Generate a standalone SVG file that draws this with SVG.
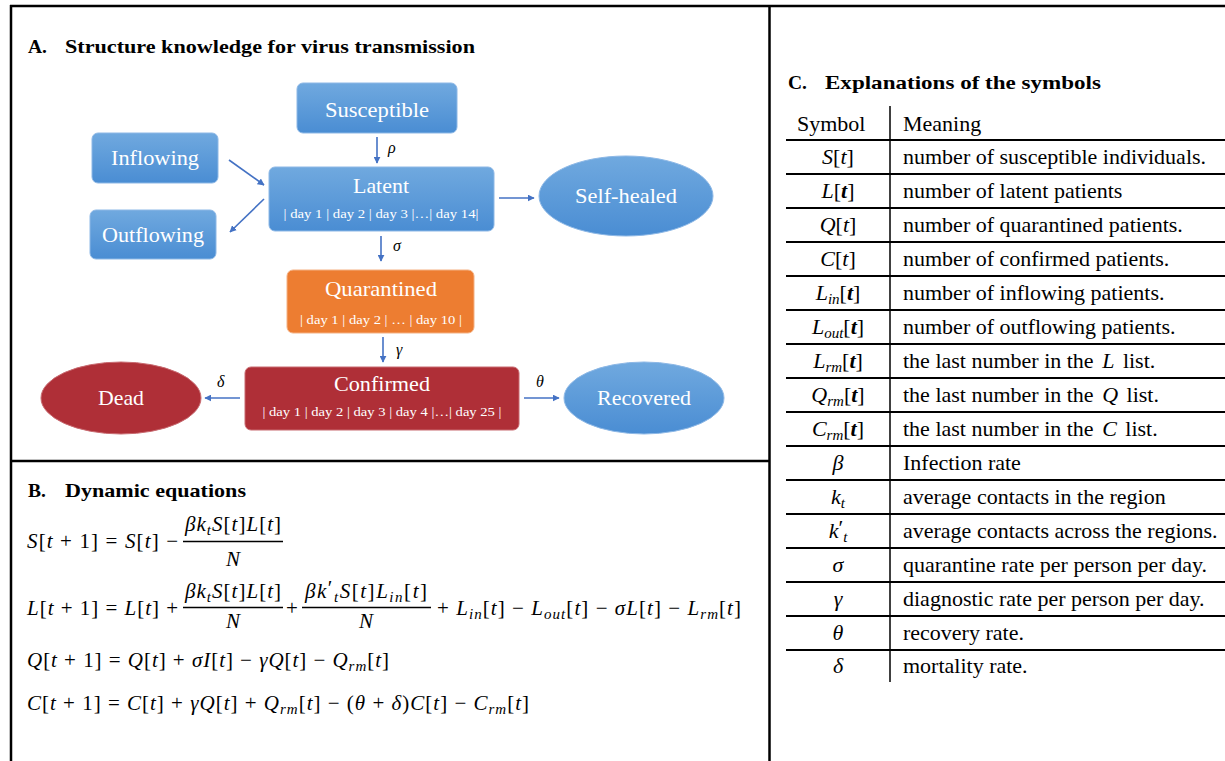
<svg xmlns="http://www.w3.org/2000/svg" width="1225" height="761" viewBox="0 0 1225 761">
  <defs>
    <linearGradient id="blueFill" x1="0" y1="0" x2="0" y2="1">
      <stop offset="0" stop-color="#70A9DF"/>
      <stop offset="1" stop-color="#4A8DD3"/>
    </linearGradient>
    <marker id="arrow" viewBox="0 0 10 10" refX="9" refY="5" markerWidth="7" markerHeight="7" markerUnits="userSpaceOnUse" orient="auto">
      <path d="M0,0 L10,5 L0,10 z" fill="#4472C4"/>
    </marker>
    <style>
      .frame { stroke: #000; fill: none; }
      .blue { fill: url(#blueFill); stroke: #8DB8E6; stroke-width: 1; }
      .orange { fill: #ED7D31; stroke: #F4B183; stroke-width: 1; }
      .red { fill: #AF2F37; stroke: #C86A70; stroke-width: 1; }
      .lbl { font-family: "Liberation Serif", "Times New Roman", serif; font-size: 22px; fill: #fff; text-anchor: middle; }
      .days { font-family: "Liberation Serif", "Times New Roman", serif; font-size: 13px; fill: #fff; text-anchor: middle; }
      .conn { stroke: #4472C4; stroke-width: 1.6; fill: none; marker-end: url(#arrow); }
      .greek { font-family: "Liberation Serif", "Times New Roman", serif; font-style: italic; font-size: 16px; fill: #000; }
      .head { font-family: "Liberation Serif", "Times New Roman", serif; font-weight: bold; font-size: 19.5px; fill: #000; }
      .math { font-family: "Liberation Serif", "Times New Roman", serif; font-size: 21px; fill: #000; }
      .i { font-style: italic; }
      .bi { font-style: italic; font-weight: bold; }
      .sub { font-size: 15px; font-style: italic; }
      .cell { font-family: "Liberation Serif", "Times New Roman", serif; font-size: 22px; fill: #000; }
      .sym { font-family: "Liberation Serif", "Times New Roman", serif; font-size: 22px; fill: #000; text-anchor: middle; }
      .rule { stroke: #000; stroke-width: 1.8; }
      .bar { stroke: #000; stroke-width: 1.5; }
    </style>
  </defs>

  <rect width="1225" height="761" fill="#fff"/>

  <!-- panel frame -->
  <g id="frame">
    <line class="frame" x1="10" y1="6" x2="1225" y2="6" stroke-width="2.5"/>
    <line class="frame" x1="11" y1="5" x2="11" y2="761" stroke-width="2.5"/>
    <line class="frame" x1="769.5" y1="5" x2="769.5" y2="761" stroke-width="2.5"/>
    <line class="frame" x1="11" y1="461" x2="769" y2="461" stroke-width="2.5"/>
  </g>

  <!-- section titles -->
  <text class="head" x="28" y="53">A.</text>
  <text class="head" x="65" y="53" textLength="410" lengthAdjust="spacingAndGlyphs">Structure knowledge for virus transmission</text>
  <text class="head" x="28" y="497">B.</text>
  <text class="head" x="65" y="497" textLength="181" lengthAdjust="spacingAndGlyphs">Dynamic equations</text>
  <text class="head" x="788" y="89">C.</text>
  <text class="head" x="825" y="89" textLength="276" lengthAdjust="spacingAndGlyphs">Explanations of the symbols</text>

  <!-- transmission structure: nodes -->
  <g id="node-susceptible">
    <rect class="blue" x="297" y="83" width="160" height="50" rx="6"/>
    <text class="lbl" x="377" y="117" textLength="104" lengthAdjust="spacingAndGlyphs">Susceptible</text>
  </g>
  <g id="node-inflowing">
    <rect class="blue" x="92" y="133" width="126" height="50" rx="6"/>
    <text class="lbl" x="155" y="165" textLength="88" lengthAdjust="spacingAndGlyphs">Inflowing</text>
  </g>
  <g id="node-outflowing">
    <rect class="blue" x="90" y="210" width="126" height="49" rx="6"/>
    <text class="lbl" x="153" y="242" textLength="102" lengthAdjust="spacingAndGlyphs">Outflowing</text>
  </g>
  <g id="node-latent">
    <rect class="blue" x="269" y="167" width="225" height="64" rx="6"/>
    <text class="lbl" x="381" y="193" textLength="56" lengthAdjust="spacingAndGlyphs">Latent</text>
    <text class="days" x="381" y="218" textLength="195" lengthAdjust="spacingAndGlyphs">| day 1 | day 2 | day 3 |…| day 14|</text>
  </g>
  <g id="node-selfhealed">
    <ellipse class="blue" cx="626" cy="196" rx="87" ry="40"/>
    <text class="lbl" x="626" y="203" textLength="102" lengthAdjust="spacingAndGlyphs">Self-healed</text>
  </g>
  <g id="node-quarantined">
    <rect class="orange" x="287" y="270" width="187" height="63" rx="6"/>
    <text class="lbl" x="381" y="296" textLength="112" lengthAdjust="spacingAndGlyphs">Quarantined</text>
    <text class="days" x="381" y="324" textLength="162" lengthAdjust="spacingAndGlyphs">| day 1 | day 2 | … | day 10 |</text>
  </g>
  <g id="node-confirmed">
    <rect class="red" x="245" y="367" width="274" height="63" rx="6"/>
    <text class="lbl" x="382" y="391" textLength="96" lengthAdjust="spacingAndGlyphs">Confirmed</text>
    <text class="days" x="382" y="416" textLength="239" lengthAdjust="spacingAndGlyphs">| day 1 | day 2 | day 3 | day 4 |…| day 25 |</text>
  </g>
  <g id="node-dead">
    <ellipse class="red" cx="121" cy="398" rx="80" ry="36"/>
    <text class="lbl" x="121" y="405" textLength="46" lengthAdjust="spacingAndGlyphs">Dead</text>
  </g>
  <g id="node-recovered">
    <ellipse class="blue" cx="644" cy="398" rx="80" ry="36"/>
    <text class="lbl" x="644" y="405" textLength="94" lengthAdjust="spacingAndGlyphs">Recovered</text>
  </g>

  <!-- transmission structure: connectors -->
  <g id="connectors">
    <line class="conn" x1="377" y1="137" x2="377" y2="163"/>
    <line class="conn" x1="229" y1="160" x2="264" y2="185"/>
    <line class="conn" x1="264" y1="199" x2="230" y2="232"/>
    <line class="conn" x1="499" y1="198" x2="534" y2="198"/>
    <line class="conn" x1="381" y1="236" x2="381" y2="261"/>
    <line class="conn" x1="383" y1="337" x2="383" y2="362"/>
    <line class="conn" x1="240" y1="398" x2="205" y2="398"/>
    <line class="conn" x1="524" y1="398" x2="559" y2="398"/>
    <text class="greek" x="388" y="153">ρ</text>
    <text class="greek" x="393" y="251">σ</text>
    <text class="greek" x="396" y="355">γ</text>
    <text class="greek" x="217" y="387">δ</text>
    <text class="greek" x="536" y="387">θ</text>
  </g>

  <!-- dynamic equations -->
  <g id="equations">
    <!-- S update -->
    <text class="math" x="27" y="548" textLength="151" lengthAdjust="spacing"><tspan class="i">S</tspan>[<tspan class="i">t</tspan> + 1] = <tspan class="i">S</tspan>[<tspan class="i">t</tspan>] −</text>
    <text class="math" x="233" y="531" text-anchor="middle" textLength="96" lengthAdjust="spacing"><tspan class="i">βk</tspan><tspan class="sub" dy="4">t</tspan><tspan class="i" dy="-4">S</tspan>[<tspan class="i">t</tspan>]<tspan class="i">L</tspan>[<tspan class="i">t</tspan>]</text>
    <line class="bar" x1="183" y1="541.5" x2="283" y2="541.5"/>
    <text class="math i" x="233" y="566" text-anchor="middle">N</text>

    <!-- L update -->
    <text class="math" x="27" y="615" textLength="151" lengthAdjust="spacing"><tspan class="i">L</tspan>[<tspan class="i">t</tspan> + 1] = <tspan class="i">L</tspan>[<tspan class="i">t</tspan>] +</text>
    <text class="math" x="233" y="598" text-anchor="middle" textLength="96" lengthAdjust="spacing"><tspan class="i">βk</tspan><tspan class="sub" dy="4">t</tspan><tspan class="i" dy="-4">S</tspan>[<tspan class="i">t</tspan>]<tspan class="i">L</tspan>[<tspan class="i">t</tspan>]</text>
    <line class="bar" x1="183" y1="607.5" x2="283" y2="607.5"/>
    <text class="math i" x="233" y="628" text-anchor="middle">N</text>
    <text class="math" x="292" y="615" text-anchor="middle">+</text>
    <text class="math" x="366" y="598" text-anchor="middle" textLength="122" lengthAdjust="spacing"><tspan class="i">βk</tspan><tspan dy="-3">′</tspan><tspan class="sub" dy="7">t</tspan><tspan class="i" dy="-4">S</tspan>[<tspan class="i">t</tspan>]<tspan class="i">L</tspan><tspan class="sub" dy="4">in</tspan><tspan dy="-4">[</tspan><tspan class="i">t</tspan>]</text>
    <line class="bar" x1="302" y1="607.5" x2="431" y2="607.5"/>
    <text class="math i" x="366" y="628" text-anchor="middle">N</text>
    <text class="math" x="437" y="615" textLength="304" lengthAdjust="spacing">+ <tspan class="i">L</tspan><tspan class="sub" dy="4">in</tspan><tspan dy="-4">[</tspan><tspan class="i">t</tspan>] − <tspan class="i">L</tspan><tspan class="sub" dy="4">out</tspan><tspan dy="-4">[</tspan><tspan class="i">t</tspan>] − <tspan class="i">σL</tspan>[<tspan class="i">t</tspan>] − <tspan class="i">L</tspan><tspan class="sub" dy="4">rm</tspan><tspan dy="-4">[</tspan><tspan class="i">t</tspan>]</text>

    <!-- Q update -->
    <text class="math" x="27" y="667" textLength="362" lengthAdjust="spacing"><tspan class="i">Q</tspan>[<tspan class="i">t</tspan> + 1] = <tspan class="i">Q</tspan>[<tspan class="i">t</tspan>] + <tspan class="i">σI</tspan>[<tspan class="i">t</tspan>] − <tspan class="i">γQ</tspan>[<tspan class="i">t</tspan>] − <tspan class="i">Q</tspan><tspan class="sub" dy="4">rm</tspan><tspan dy="-4">[</tspan><tspan class="i">t</tspan>]</text>

    <!-- C update -->
    <text class="math" x="27" y="710" textLength="502" lengthAdjust="spacing"><tspan class="i">C</tspan>[<tspan class="i">t</tspan> + 1] = <tspan class="i">C</tspan>[<tspan class="i">t</tspan>] + <tspan class="i">γQ</tspan>[<tspan class="i">t</tspan>] + <tspan class="i">Q</tspan><tspan class="sub" dy="4">rm</tspan><tspan dy="-4">[</tspan><tspan class="i">t</tspan>] − (<tspan class="i">θ</tspan> + <tspan class="i">δ</tspan>)<tspan class="i">C</tspan>[<tspan class="i">t</tspan>] − <tspan class="i">C</tspan><tspan class="sub" dy="4">rm</tspan><tspan dy="-4">[</tspan><tspan class="i">t</tspan>]</text>
  </g>

  <!-- symbol table -->
  <g id="symbol-table">
    <line x1="890" y1="106" x2="890" y2="682" stroke="#000" stroke-width="1.5"/>
    <text class="cell" x="797" y="131">Symbol</text>
    <text class="cell" x="903" y="131">Meaning</text>
    <line class="rule" x1="786" y1="140" x2="1225" y2="140"/>
    <line class="rule" x1="786" y1="174" x2="1225" y2="174"/>
    <line class="rule" x1="786" y1="208" x2="1225" y2="208"/>
    <line class="rule" x1="786" y1="242" x2="1225" y2="242"/>
    <line class="rule" x1="786" y1="276" x2="1225" y2="276"/>
    <line class="rule" x1="786" y1="310" x2="1225" y2="310"/>
    <line class="rule" x1="786" y1="344" x2="1225" y2="344"/>
    <line class="rule" x1="786" y1="378" x2="1225" y2="378"/>
    <line class="rule" x1="786" y1="412" x2="1225" y2="412"/>
    <line class="rule" x1="786" y1="446" x2="1225" y2="446"/>
    <line class="rule" x1="786" y1="480" x2="1225" y2="480"/>
    <line class="rule" x1="786" y1="514" x2="1225" y2="514"/>
    <line class="rule" x1="786" y1="548" x2="1225" y2="548"/>
    <line class="rule" x1="786" y1="582" x2="1225" y2="582"/>
    <line class="rule" x1="786" y1="616" x2="1225" y2="616"/>
    <line class="rule" x1="786" y1="650" x2="1225" y2="650"/>

    <text class="sym" x="838" y="164"><tspan class="i">S</tspan>[<tspan class="i">t</tspan>]</text>
    <text class="cell" x="903" y="164">number of susceptible individuals.</text>

    <text class="sym" x="838" y="198"><tspan class="i">L</tspan>[<tspan class="bi">t</tspan>]</text>
    <text class="cell" x="903" y="198">number of latent patients</text>

    <text class="sym" x="838" y="232"><tspan class="i">Q</tspan>[<tspan class="i">t</tspan>]</text>
    <text class="cell" x="903" y="232">number of quarantined patients.</text>

    <text class="sym" x="838" y="266"><tspan class="i">C</tspan>[<tspan class="i">t</tspan>]</text>
    <text class="cell" x="903" y="266">number of confirmed patients.</text>

    <text class="sym" x="838" y="300"><tspan class="i">L</tspan><tspan class="sub" dy="4">in</tspan><tspan dy="-4">[</tspan><tspan class="bi">t</tspan>]</text>
    <text class="cell" x="903" y="300">number of inflowing patients.</text>

    <text class="sym" x="838" y="334"><tspan class="i">L</tspan><tspan class="sub" dy="4">out</tspan><tspan dy="-4">[</tspan><tspan class="bi">t</tspan>]</text>
    <text class="cell" x="903" y="334">number of outflowing patients.</text>

    <text class="sym" x="838" y="368"><tspan class="i">L</tspan><tspan class="sub" dy="4">rm</tspan><tspan dy="-4">[</tspan><tspan class="bi">t</tspan>]</text>
    <text class="cell" x="903" y="368">the last number in the <tspan class="i" dx="3">L</tspan><tspan dx="3"> list.</tspan></text>

    <text class="sym" x="838" y="402"><tspan class="i">Q</tspan><tspan class="sub" dy="4">rm</tspan><tspan dy="-4">[</tspan><tspan class="bi">t</tspan>]</text>
    <text class="cell" x="903" y="402">the last number in the <tspan class="i" dx="3">Q</tspan><tspan dx="3"> list.</tspan></text>

    <text class="sym" x="838" y="436"><tspan class="i">C</tspan><tspan class="sub" dy="4">rm</tspan><tspan dy="-4">[</tspan><tspan class="bi">t</tspan>]</text>
    <text class="cell" x="903" y="436">the last number in the <tspan class="i" dx="3">C</tspan><tspan dx="3"> list.</tspan></text>

    <text class="sym i" x="838" y="470">β</text>
    <text class="cell" x="903" y="470">Infection rate</text>

    <text class="sym" x="838" y="504"><tspan class="i">k</tspan><tspan class="sub" dy="4">t</tspan></text>
    <text class="cell" x="903" y="504">average contacts in the region</text>

    <text class="sym" x="838" y="538"><tspan class="i">k</tspan><tspan dy="-3">′</tspan><tspan class="sub" dy="7">t</tspan></text>
    <text class="cell" x="903" y="538">average contacts across the regions.</text>

    <text class="sym i" x="838" y="572">σ</text>
    <text class="cell" x="903" y="572">quarantine rate per person per day.</text>

    <text class="sym i" x="838" y="606">γ</text>
    <text class="cell" x="903" y="606">diagnostic rate per person per day.</text>

    <text class="sym i" x="838" y="640">θ</text>
    <text class="cell" x="903" y="640">recovery rate.</text>

    <text class="sym i" x="838" y="673">δ</text>
    <text class="cell" x="903" y="673">mortality rate.</text>
  </g>
</svg>
